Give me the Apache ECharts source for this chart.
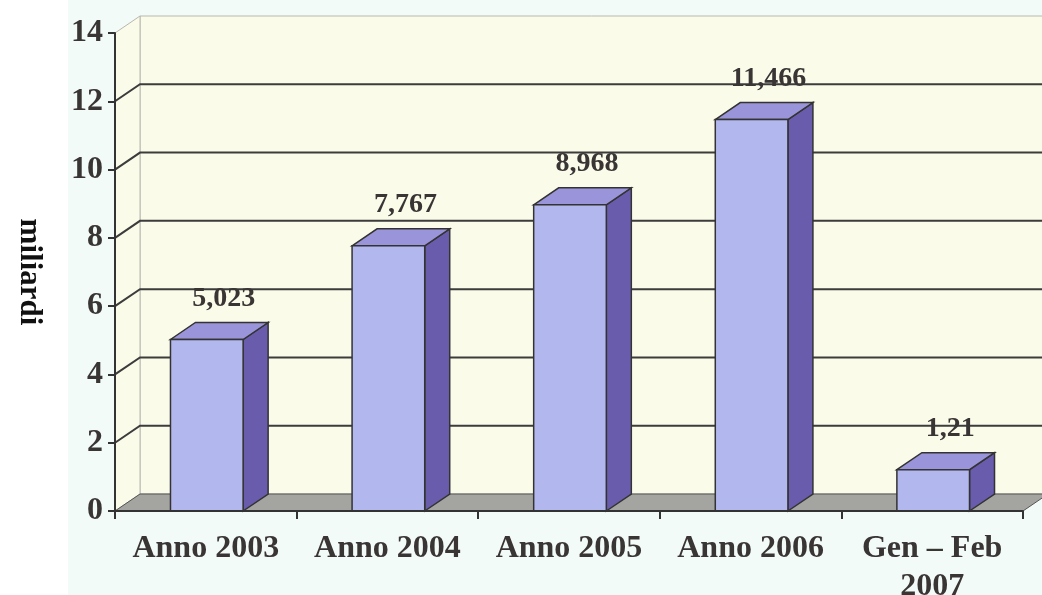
<!DOCTYPE html>
<html>
<head>
<meta charset="utf-8">
<script src="https://cdn.jsdelivr.net/npm/echarts@6/dist/echarts.min.js"></script>
<style>
html,body{margin:0;padding:0;background:#ffffff;}
#chart{width:1042px;height:595px;}
</style>
</head>
<body>
<div id="chart"></div>
<script>
const categories = ['Anno 2003', 'Anno 2004', 'Anno 2005', 'Anno 2006', 'Gen – Feb\n2007'];
const values = [5.023, 7.767, 8.968, 11.466, 1.21];
const yTicks = [0, 2, 4, 6, 8, 10, 12, 14];
const yTitle = 'miliardi';

const DX = 25, DY = -17;
const FONT = '"Liberation Serif", "Times New Roman", serif';
const TXT = '#3a3535';

const chart = echarts.init(document.getElementById('chart'));

function fmt(v) { return String(v).replace('.', ','); }

const option = {
  backgroundColor: '#ffffff',
  animation: false,
  graphic: [
    { type: 'rect', shape: { x: 68, y: 0, width: 974, height: 595 }, style: { fill: '#f3fbf8' }, z: -10 }
  ],
  grid: { left: 115, right: 19, top: 33, bottom: 84, containLabel: false, outerBoundsMode: 'none' },
  xAxis: {
    type: 'category',
    data: categories,
    boundaryGap: true,
    axisLine: { show: true, lineStyle: { color: '#333', width: 2 } },
    axisTick: { show: true, length: 8, alignWithLabel: false, lineStyle: { color: '#333', width: 2 } },
    axisLabel: { fontFamily: FONT, fontWeight: 'bold', fontSize: 32, color: TXT, margin: 19, lineHeight: 38, interval: 0 },
    splitLine: { show: false },
    z: 10
  },
  yAxis: {
    type: 'value',
    min: 0, max: 14, interval: 2,
    name: yTitle,
    nameLocation: 'middle',
    nameRotate: -90,
    nameGap: 70,
    nameTextStyle: { fontFamily: FONT, fontWeight: 'bold', fontSize: 31, color: '#111' },
    axisLine: { show: true, lineStyle: { color: '#333', width: 2 } },
    axisTick: { show: true, length: 7, lineStyle: { color: '#333', width: 2 } },
    axisLabel: { fontFamily: FONT, fontWeight: 'bold', fontSize: 32, color: TXT, margin: 12,
      formatter: function (v) { return yTicks.indexOf(v) >= 0 ? String(v) : ''; } },
    splitLine: { show: false },
    z: 10
  },
  series: [
    {
      type: 'custom',
      z: 0,
      silent: true,
      data: [[0, yTicks[yTicks.length - 1]]],
      renderItem: function (params, api) {
        const cs = params.coordSys;
        const x0 = cs.x, x1 = cs.x + cs.width;
        const yTop = api.coord([0, yTicks[yTicks.length - 1]])[1];
        const yBot = api.coord([0, 0])[1];
        return {
          type: 'group',
          children: [
            { type: 'polygon', shape: { points: [[x0 + DX, yTop + DY], [x1 + DX, yTop + DY], [x1 + DX, yBot + DY], [x0 + DX, yBot + DY]] },
              style: { fill: '#fbfbe9', stroke: '#b8b8b0', lineWidth: 1 } },
            { type: 'polygon', shape: { points: [[x0, yTop], [x0 + DX, yTop + DY], [x0 + DX, yBot + DY], [x0, yBot]] },
              style: { fill: '#fbfbea', stroke: '#b8b8b0', lineWidth: 1 } }
          ]
        };
      }
    },
    {
      type: 'custom',
      z: 1,
      silent: true,
      data: yTicks.filter(function (t) { return t > 0 && t < yTicks[yTicks.length - 1]; }).map(function (t) { return [0, t]; }),
      renderItem: function (params, api) {
        const cs = params.coordSys;
        const x0 = cs.x, x1 = cs.x + cs.width;
        const y = api.coord([0, api.value(1)])[1];
        return {
          type: 'polyline',
          shape: { points: [[x0, y], [x0 + DX, y + DY], [x1 + DX, y + DY]] },
          style: { stroke: '#3c3c3c', lineWidth: 2, fill: null }
        };
      }
    },
    {
      type: 'custom',
      z: 2,
      silent: true,
      data: [[0, 0]],
      renderItem: function (params, api) {
        const cs = params.coordSys;
        const x0 = cs.x, x1 = cs.x + cs.width;
        const y = api.coord([0, 0])[1];
        return {
          type: 'polygon',
          shape: { points: [[x0, y], [x0 + DX, y + DY], [x1 + DX, y + DY], [x1, y]] },
          style: { fill: '#a4a4a0', stroke: '#555', lineWidth: 1 }
        };
      }
    },
    {
      type: 'custom',
      z: 3,
      data: values.map(function (v, i) { return [i, v]; }),
      renderItem: function (params, api) {
        const i = api.value(0), v = api.value(1);
        const top = api.coord([i, v]);
        const base = api.coord([i, 0]);
        const w = api.size([1, 0])[0] * 0.4;
        const cx = top[0] + 1;
        const xl = cx - w / 2, xr = cx + w / 2;
        const yt = top[1], yb = base[1];
        const st = '#333';
        return {
          type: 'group',
          children: [
            { type: 'polygon', shape: { points: [[xr, yb], [xr + DX, yb + DY], [xr + DX, yt + DY], [xr, yt]] },
              style: { fill: '#6a5cad', stroke: st, lineWidth: 1.5 } },
            { type: 'polygon', shape: { points: [[xl, yt], [xl + DX, yt + DY], [xr + DX, yt + DY], [xr, yt]] },
              style: { fill: '#9a95da', stroke: st, lineWidth: 1.5 } },
            { type: 'rect', shape: { x: xl, y: yt, width: w, height: yb - yt },
              style: { fill: '#b2b7ed', stroke: st, lineWidth: 1.5 } },
            { type: 'text', x: cx + 17, y: yt + DY - 24,
              style: { text: fmt(v), fontFamily: FONT, fontWeight: 'bold', fontSize: 28, fill: TXT, align: 'center', verticalAlign: 'middle' } }
          ]
        };
      }
    }
  ]
};
chart.setOption(option);
</script>
</body>
</html>
